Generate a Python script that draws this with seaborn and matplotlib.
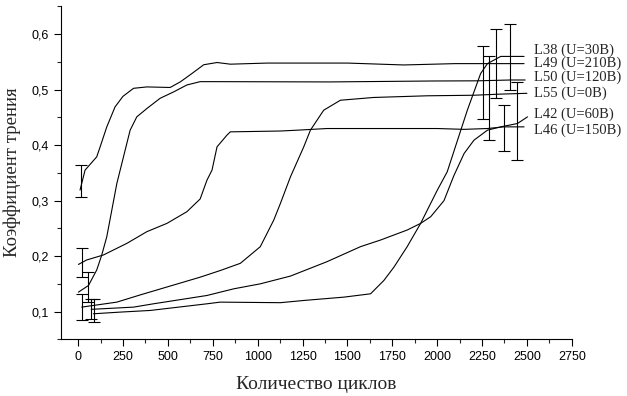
import numpy as np
import pandas as pd
import matplotlib
matplotlib.use("Agg")
import matplotlib.pyplot as plt
import seaborn as sns
from matplotlib.ticker import MultipleLocator, FuncFormatter

# Кривые коэффициента трения
l38_x = [85, 234, 402, 718, 792, 1127, 1257, 1480, 1629, 1703, 1759, 1833, 1908, 2001, 2056, 2168, 2242, 2280, 2354, 2484]
l38_y = [0.096, 0.099, 0.102, 0.114, 0.117, 0.116, 0.120, 0.126, 0.132, 0.156, 0.180, 0.217, 0.259, 0.319, 0.352, 0.463, 0.529, 0.547, 0.560, 0.560]

l49_x = [11, 39, 104, 123, 160, 206, 250, 309, 383, 513, 569, 625, 700, 774, 848, 1053, 1500, 1814, 2100, 2484]
l49_y = [0.319, 0.355, 0.379, 0.397, 0.433, 0.469, 0.488, 0.5025, 0.505, 0.504, 0.514, 0.527, 0.545, 0.549, 0.546, 0.548, 0.548, 0.5446, 0.547, 0.547]

l50_x = [2, 58, 104, 132, 160, 188, 216, 253, 290, 327, 383, 457, 532, 606, 680, 774, 1400, 1982, 2224, 2410, 2490]
l50_y = [0.135, 0.147, 0.175, 0.202, 0.235, 0.283, 0.331, 0.379, 0.427, 0.451, 0.466, 0.4845, 0.496, 0.5085, 0.5145, 0.5145, 0.514, 0.5157, 0.516, 0.5175, 0.5175]

l55_x = [20, 85, 216, 346, 513, 680, 792, 904, 1015, 1090, 1127, 1183, 1257, 1294, 1368, 1461, 1647, 1944, 2205, 2350, 2500]
l55_y = [0.108, 0.111, 0.117, 0.130, 0.146, 0.162, 0.174, 0.187, 0.217, 0.265, 0.295, 0.343, 0.397, 0.427, 0.463, 0.481, 0.486, 0.489, 0.490, 0.492, 0.4935]

l42_x = [73, 309, 420, 718, 867, 1015, 1183, 1387, 1573, 1685, 1833, 1908, 1964, 2038, 2093, 2150, 2205, 2280, 2354, 2447, 2503]
l42_y = [0.104, 0.108, 0.114, 0.129, 0.141, 0.150, 0.164, 0.190, 0.217, 0.229, 0.247, 0.259, 0.271, 0.300, 0.345, 0.385, 0.409, 0.427, 0.433, 0.439, 0.451]

l46_x = [2, 48, 141, 272, 383, 495, 606, 680, 718, 746, 774, 829, 848, 1127, 1220, 1387, 2001, 2149, 2280, 2372, 2484]
l46_y = [0.185, 0.193, 0.202, 0.223, 0.244, 0.259, 0.280, 0.303, 0.337, 0.355, 0.397, 0.418, 0.424, 0.4255, 0.427, 0.430, 0.430, 0.4285, 0.430, 0.433, 0.433]

labels = ["L38 (U=30B)", "L49 (U=210B)", "L50 (U=120B)", "L55 (U=0B)", "L42 (U=60B)", "L46 (U=150B)"]
curves_x = [l38_x, l49_x, l50_x, l55_x, l42_x, l46_x]
curves_y = [l38_y, l49_y, l50_y, l55_y, l42_y, l46_y]

# Погрешности в начале и в конце испытаний
err_x = [91, 17, 54, 20, 73, 20, 2404, 2330, 2255, 2289, 2372, 2447]
err_y = [0.102, 0.335, 0.144, 0.108, 0.104, 0.188, 0.559, 0.547, 0.513, 0.485, 0.431, 0.443]
err_d = [0.021, 0.029, 0.027, 0.024, 0.018, 0.026, 0.060, 0.062, 0.066, 0.076, 0.041, 0.070]

# Положение подписей справа
label_x = 2538
label_y = [0.571, 0.547, 0.522, 0.493, 0.456, 0.427]

sns.set_style("ticks")
plt.rcParams['font.family'] = ['Liberation Sans', 'DejaVu Sans']

fig = plt.figure(figsize=(6.27, 3.96), dpi=100)
ax = fig.add_axes([0.0973, 0.1432, 0.8147, 0.8418])

for xs, ys in zip(curves_x, curves_y):
    df = pd.DataFrame({'x': xs, 'y': ys})
    sns.lineplot(data=df, x='x', y='y', ax=ax, color='black', linewidth=0.8, sort=False, estimator=None)

ax.errorbar(err_x, err_y, yerr=err_d, fmt='none', ecolor='black', elinewidth=0.8,
            capsize=4.5, capthick=0.8)

for lab, ly in zip(labels, label_y):
    ax.text(label_x, ly, lab, va='center', ha='left', fontsize=10.5,
            family='Liberation Serif', clip_on=False)

ax.set_xlim(-95, 2750)
ax.set_ylim(0.05, 0.651)
ax.xaxis.set_major_locator(MultipleLocator(250))
ax.xaxis.set_minor_locator(MultipleLocator(125))
ax.yaxis.set_major_locator(MultipleLocator(0.1))
ax.yaxis.set_minor_locator(MultipleLocator(0.05))
ax.yaxis.set_major_formatter(FuncFormatter(lambda v, p: f"{v:.1f}".replace('.', ',')))
ax.tick_params(which='major', direction='out', length=5, width=0.8, labelsize=9, colors='black')
ax.tick_params(which='minor', direction='out', length=3, width=0.8)

sns.despine(ax=ax)
for s in ['left', 'bottom']:
    ax.spines[s].set_linewidth(0.8)
    ax.spines[s].set_color('black')

ax.set_xlabel('Количество циклов', family='Liberation Serif', fontsize=14, labelpad=9)
ax.set_ylabel('Коэффициент трения', family='Liberation Serif', fontsize=13.5, labelpad=8)

fig.savefig('out.png', dpi=100)
